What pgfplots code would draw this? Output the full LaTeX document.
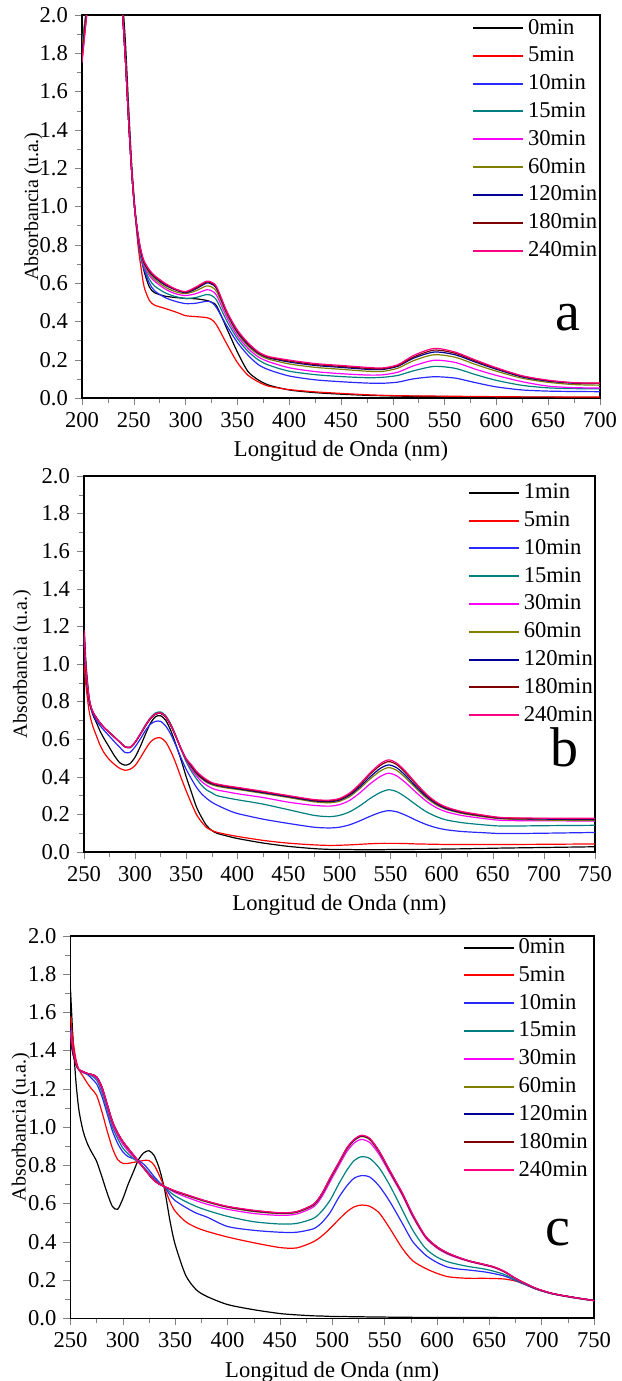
\documentclass[border=0pt]{standalone}
\usepackage{fontspec}
\setmainfont{Liberation Serif}
\usepackage{pgfplots}
\usepackage{pgfplotstable}
\pgfplotsset{compat=1.18}

\definecolor{c0}{RGB}{0,0,0}
\definecolor{c5}{RGB}{255,0,0}
\definecolor{c10}{RGB}{40,40,255}
\definecolor{c15}{RGB}{0,128,128}
\definecolor{c30}{RGB}{255,0,255}
\definecolor{c60}{RGB}{128,128,0}
\definecolor{c120}{RGB}{0,0,150}
\definecolor{c180}{RGB}{128,0,0}
\definecolor{c240}{RGB}{255,0,128}

% panel a
\pgfplotstableread{
x   t0    t5    t10   t15   t30   t60   t120  t180  t240
200 1.80  1.76  1.82  1.85  1.78  1.83  1.80  1.77  1.75
203 1.95  1.92  1.96  1.98  1.94  1.97  1.95  1.93  1.92
206 2.10  2.08  2.10  2.12  2.09  2.11  2.10  2.09  2.08
210 2.35  2.35  2.35  2.35  2.35  2.35  2.35  2.35  2.35
220 2.60  2.60  2.60  2.60  2.60  2.60  2.60  2.60  2.60
230 2.60  2.60  2.60  2.60  2.60  2.60  2.60  2.60  2.60
236 2.40  2.35  2.35  2.35  2.35  2.35  2.35  2.35  2.35
239 2.10  2.03  2.03  2.03  2.03  2.03  2.03  2.03  2.03
242 1.85  1.76  1.76  1.76  1.76  1.76  1.76  1.76  1.76
245 1.52  1.45  1.45  1.45  1.45  1.45  1.45  1.45  1.45
248 1.22  1.18  1.18  1.18  1.18  1.18  1.18  1.18  1.18
251 1.00  0.98  0.98  0.98  0.98  0.98  0.98  0.98  0.98
254 0.85  0.80  0.83  0.84  0.845 0.85  0.85  0.855 0.86
257 0.74  0.68  0.73  0.74  0.75  0.755 0.76  0.765 0.77
260 0.66  0.58  0.67  0.68  0.69  0.70  0.705 0.71  0.715
265 0.58  0.51  0.60  0.62  0.64  0.65  0.66  0.665 0.67
270 0.55  0.485 0.56  0.585 0.61  0.62  0.63  0.635 0.64
280 0.532 0.468 0.525 0.55  0.57  0.58  0.59  0.595 0.60
290 0.525 0.45  0.505 0.53  0.545 0.555 0.565 0.568 0.57
300 0.52  0.43  0.493 0.52  0.535 0.545 0.55  0.553 0.556
310 0.518 0.425 0.495 0.525 0.545 0.56  0.57  0.575 0.58
320 0.51  0.42  0.505 0.54  0.565 0.585 0.60  0.605 0.61
325 0.50  0.41  0.50  0.535 0.56  0.58  0.595 0.60  0.605
330 0.48  0.38  0.47  0.51  0.535 0.555 0.57  0.575 0.58
340 0.36  0.28  0.375 0.40  0.42  0.435 0.443 0.447 0.45
350 0.24  0.185 0.29  0.31  0.325 0.338 0.345 0.35  0.355
360 0.14  0.12  0.225 0.245 0.26  0.272 0.28  0.285 0.29
370 0.095 0.085 0.175 0.20  0.215 0.228 0.235 0.238 0.242
380 0.068 0.062 0.148 0.172 0.19  0.203 0.21  0.213 0.217
400 0.042 0.044 0.115 0.14  0.158 0.178 0.188 0.193 0.198
425 0.028 0.032 0.095 0.122 0.138 0.160 0.170 0.175 0.180
450 0.020 0.024 0.085 0.112 0.127 0.150 0.160 0.165 0.170
475 0.014 0.017 0.078 0.106 0.120 0.140 0.150 0.155 0.160
490 0.012 0.014 0.077 0.108 0.121 0.139 0.149 0.153 0.157
505 0.010 0.012 0.083 0.118 0.135 0.156 0.166 0.170 0.174
520 0.009 0.011 0.100 0.142 0.168 0.195 0.208 0.214 0.222
540 0.008 0.010 0.111 0.165 0.197 0.226 0.240 0.250 0.259
560 0.007 0.009 0.104 0.155 0.186 0.213 0.226 0.234 0.240
580 0.006 0.008 0.080 0.122 0.150 0.175 0.187 0.193 0.198
600 0.005 0.007 0.058 0.092 0.118 0.140 0.150 0.155 0.158
625 0.004 0.006 0.042 0.066 0.085 0.103 0.110 0.114 0.116
650 0.004 0.006 0.036 0.053 0.062 0.082 0.088 0.091 0.093
675 0.003 0.005 0.034 0.049 0.054 0.070 0.077 0.079 0.080
700 0.003 0.005 0.033 0.048 0.052 0.067 0.075 0.077 0.078
}\tabA

% panel b
\pgfplotstableread{
x   t0    t5    t10   t15   t30   t60   t120  t180  t240
250 1.22  1.00  1.10  1.15  1.15  1.16  1.16  1.17  1.18
252 1.00  0.88  0.94  0.95  0.95  0.96  0.96  0.96  0.97
255 0.82  0.75  0.80  0.81  0.81  0.81  0.81  0.815 0.82
258 0.74  0.68  0.745 0.75  0.75  0.75  0.75  0.755 0.755
262 0.69  0.62  0.70  0.715 0.715 0.715 0.715 0.715 0.715
266 0.64  0.565 0.67  0.68  0.685 0.685 0.685 0.685 0.685
270 0.60  0.525 0.645 0.66  0.66  0.66  0.66  0.66  0.66
275 0.555 0.49  0.615 0.635 0.635 0.635 0.635 0.635 0.635
280 0.51  0.465 0.585 0.61  0.61  0.61  0.61  0.61  0.61
285 0.475 0.445 0.557 0.585 0.585 0.585 0.585 0.585 0.585
290 0.462 0.435 0.53  0.56  0.56  0.56  0.56  0.56  0.56
295 0.47  0.44  0.53  0.556 0.556 0.556 0.556 0.556 0.558
300 0.505 0.46  0.56  0.585 0.583 0.583 0.583 0.583 0.585
305 0.56  0.50  0.60  0.628 0.625 0.625 0.625 0.625 0.627
310 0.625 0.545 0.645 0.675 0.67  0.67  0.67  0.67  0.672
315 0.685 0.585 0.68  0.715 0.71  0.71  0.71  0.71  0.712
320 0.72  0.605 0.695 0.74  0.733 0.733 0.733 0.734 0.735
325 0.725 0.607 0.695 0.745 0.738 0.738 0.738 0.739 0.74
330 0.70  0.585 0.67  0.725 0.718 0.718 0.718 0.719 0.72
335 0.645 0.535 0.625 0.68  0.673 0.673 0.673 0.674 0.675
340 0.57  0.47  0.565 0.618 0.613 0.613 0.613 0.614 0.615
345 0.49  0.395 0.50  0.545 0.548 0.548 0.549 0.55  0.55
350 0.40  0.325 0.44  0.48  0.49  0.493 0.494 0.495 0.496
355 0.32  0.26  0.39  0.43  0.44  0.45  0.455 0.46  0.465
360 0.24  0.20  0.345 0.39  0.405 0.415 0.42  0.425 0.43
365 0.185 0.16  0.31  0.355 0.375 0.39  0.395 0.40  0.405
370 0.14  0.13  0.285 0.33  0.355 0.37  0.375 0.38  0.385
375 0.115 0.115 0.265 0.315 0.34  0.358 0.363 0.367 0.37
380 0.10  0.105 0.25  0.30  0.33  0.35  0.355 0.358 0.362
390 0.085 0.093 0.225 0.288 0.32  0.34  0.345 0.349 0.352
400 0.072 0.083 0.205 0.278 0.31  0.333 0.337 0.341 0.344
425 0.048 0.062 0.175 0.255 0.29  0.312 0.316 0.32  0.323
450 0.030 0.047 0.152 0.225 0.265 0.29  0.294 0.298 0.30
475 0.018 0.038 0.132 0.195 0.248 0.267 0.272 0.276 0.279
490 0.014 0.035 0.128 0.188 0.244 0.262 0.268 0.272 0.276
500 0.013 0.036 0.132 0.195 0.252 0.270 0.276 0.281 0.285
510 0.013 0.038 0.145 0.214 0.275 0.295 0.303 0.309 0.314
520 0.012 0.041 0.166 0.246 0.315 0.338 0.347 0.357 0.363
530 0.012 0.044 0.190 0.285 0.363 0.389 0.400 0.414 0.421
540 0.012 0.046 0.211 0.317 0.402 0.431 0.445 0.461 0.470
548 0.013 0.046 0.220 0.331 0.419 0.449 0.463 0.481 0.490
556 0.013 0.046 0.214 0.321 0.405 0.434 0.448 0.465 0.473
565 0.013 0.045 0.195 0.291 0.367 0.393 0.405 0.419 0.427
575 0.014 0.043 0.169 0.251 0.317 0.338 0.347 0.359 0.365
585 0.014 0.042 0.146 0.214 0.270 0.287 0.295 0.303 0.308
595 0.015 0.041 0.129 0.188 0.235 0.250 0.256 0.261 0.265
605 0.016 0.040 0.118 0.170 0.213 0.226 0.230 0.235 0.238
620 0.017 0.040 0.109 0.156 0.194 0.205 0.209 0.212 0.215
640 0.019 0.040 0.103 0.145 0.179 0.188 0.192 0.194 0.197
660 0.021 0.040 0.098 0.138 0.168 0.176 0.179 0.181 0.183
700 0.024 0.041 0.100 0.140 0.166 0.170 0.175 0.178 0.180
750 0.028 0.043 0.104 0.142 0.165 0.167 0.172 0.176 0.180
}\tabB

% panel c
\pgfplotstableread{
x   t0    t5    t10   t15   t30   t60   t120  t180  t240
250 1.72  1.58  1.52  1.50  1.48  1.47  1.46  1.47  1.50
252 1.50  1.47  1.42  1.41  1.40  1.39  1.39  1.40  1.42
255 1.25  1.36  1.34  1.33  1.33  1.33  1.33  1.33  1.34
258 1.09  1.30  1.30  1.30  1.30  1.30  1.30  1.30  1.30
262 0.98  1.265 1.285 1.285 1.285 1.29  1.29  1.29  1.29
266 0.915 1.23  1.275 1.278 1.28  1.28  1.28  1.28  1.28
270 0.87  1.20  1.255 1.268 1.272 1.275 1.275 1.275 1.275
275 0.82  1.165 1.225 1.245 1.255 1.262 1.262 1.262 1.262
280 0.74  1.08  1.16  1.18  1.195 1.205 1.21  1.21  1.21
285 0.655 0.98  1.07  1.09  1.105 1.115 1.12  1.12  1.12
290 0.585 0.89  0.98  1.00  1.015 1.025 1.03  1.03  1.03
295 0.57  0.83  0.915 0.94  0.955 0.965 0.97  0.97  0.97
300 0.625 0.81  0.87  0.89  0.91  0.92  0.925 0.925 0.925
305 0.70  0.81  0.845 0.86  0.875 0.885 0.888 0.89  0.89
310 0.765 0.815 0.835 0.835 0.845 0.852 0.855 0.855 0.855
315 0.83  0.82  0.825 0.815 0.815 0.818 0.82  0.82  0.82
320 0.865 0.825 0.805 0.79  0.785 0.785 0.785 0.785 0.785
325 0.876 0.825 0.775 0.76  0.755 0.752 0.75  0.75  0.75
330 0.85  0.80  0.74  0.73  0.725 0.722 0.72  0.72  0.72
335 0.78  0.745 0.71  0.705 0.703 0.702 0.70  0.70  0.70
340 0.67  0.68  0.685 0.687 0.688 0.688 0.688 0.688 0.688
345 0.51  0.61  0.645 0.66  0.672 0.675 0.676 0.676 0.677
350 0.385 0.56  0.615 0.64  0.657 0.662 0.664 0.665 0.666
360 0.225 0.505 0.58  0.61  0.635 0.643 0.646 0.647 0.648
370 0.15  0.475 0.55  0.585 0.615 0.625 0.628 0.629 0.63
380 0.115 0.455 0.53  0.565 0.597 0.608 0.611 0.612 0.613
400 0.072 0.425 0.48  0.533 0.57  0.58  0.583 0.584 0.585
425 0.045 0.395 0.46  0.505 0.548 0.558 0.561 0.563 0.565
450 0.025 0.37  0.45  0.493 0.538 0.547 0.55  0.551 0.552
466 0.018 0.368 0.45  0.496 0.545 0.553 0.556 0.557 0.558
482 0.013 0.40  0.468 0.522 0.582 0.59  0.593 0.595 0.596
490 0.012 0.43  0.50  0.56  0.635 0.645 0.648 0.65  0.652
498 0.010 0.47  0.553 0.618 0.715 0.727 0.731 0.733 0.735
506 0.009 0.515 0.63  0.70  0.795 0.806 0.809 0.811 0.813
514 0.009 0.557 0.693 0.775 0.872 0.884 0.888 0.89  0.892
521 0.008 0.583 0.733 0.825 0.917 0.929 0.932 0.934 0.936
528 0.008 0.592 0.746 0.845 0.935 0.950 0.953 0.955 0.957
536 0.007 0.585 0.738 0.835 0.918 0.933 0.936 0.938 0.940
545 0.007 0.55  0.69  0.785 0.855 0.866 0.869 0.871 0.873
555 0.006 0.47  0.61  0.695 0.758 0.766 0.769 0.771 0.773
567 0.006 0.365 0.496 0.566 0.642 0.648 0.651 0.653 0.655
577 0.005 0.30  0.40  0.46  0.53  0.535 0.538 0.54  0.542
589 0.005 0.261 0.331 0.366 0.422 0.426 0.428 0.429 0.43
600 0.005 0.235 0.292 0.32  0.367 0.371 0.373 0.374 0.375
610 0.004 0.218 0.268 0.296 0.336 0.339 0.341 0.342 0.343
620 0.004 0.212 0.258 0.282 0.315 0.318 0.319 0.32  0.32
631 0.004 0.209 0.252 0.27  0.297 0.298 0.299 0.30  0.30
645 0.004 0.209 0.243 0.258 0.278 0.28  0.281 0.282 0.282
655 0.004 0.208 0.233 0.245 0.264 0.266 0.267 0.267 0.268
665 0.003 0.205 0.22  0.228 0.24  0.242 0.243 0.243 0.244
675 0.003 0.195 0.198 0.20  0.207 0.208 0.208 0.209 0.209
685 0.003 0.175 0.175 0.177 0.18  0.18  0.18  0.181 0.181
695 0.003 0.152 0.152 0.153 0.155 0.155 0.155 0.156 0.156
710 0.003 0.128 0.128 0.129 0.13  0.13  0.13  0.13  0.13
730 0.003 0.108 0.108 0.109 0.11  0.11  0.11  0.11  0.11
750 0.003 0.092 0.092 0.092 0.093 0.093 0.093 0.093 0.093
}\tabC

\pgfplotsset{
  panel/.style={
    scale only axis,
    ymin=0, ymax=2,
    ytick={0,0.2,0.4,0.6,0.8,1.0,1.2,1.4,1.6,1.8,2.0},
    minor x tick num=1, minor y tick num=1,
    xtick pos=left, ytick pos=left,
    tick align=outside,
    major tick length=3.5pt, minor tick length=2.5pt,
    /pgf/number format/assume math mode=true,
    yticklabel style={/pgf/number format/.cd, fixed, fixed zerofill, precision=1},
    tick label style={font=\fontsize{11.3}{13}\selectfont},
    label style={font=\fontsize{11.3}{13}\selectfont},
    xlabel={Longitud de Onda (nm)},
    ylabel={Absorbancia (u.a.)},
    every axis y label/.style={rotate=90, anchor=center},
    axis line style={line width=0.8pt},
    legend cell align=left,
    legend style={draw=none, fill=none, anchor=north west,
      inner sep=0pt, outer sep=0pt, row sep=0.9pt,
      font=\fontsize{11.3}{13}\selectfont},
    legend image code/.code={\draw[#1, line width=1pt] (0pt,0pt) -- (25pt,0pt);},
    every axis plot/.append style={line width=0.6pt, smooth, tension=0.45, mark=none},
  }
}

\begin{document}
\begin{tikzpicture}
\useasboundingbox (0,0) rectangle (310.5pt,-690.5pt);

\begin{axis}[panel, at={(41pt,-199pt)}, anchor=south west,
  width=259pt, height=191.5pt,
  xmin=200, xmax=700, xtick={200,250,...,700},
  ylabel style={at={(rel axis cs:-0.094,0.5)}},
  legend style={at={(0.753,1.0)}}]
\addplot[draw=c0]   table[x=x,y=t0]{\tabA};   \addlegendentry{0min}
\addplot[draw=c5]   table[x=x,y=t5]{\tabA};   \addlegendentry{5min}
\addplot[draw=c10]  table[x=x,y=t10]{\tabA};  \addlegendentry{10min}
\addplot[draw=c15]  table[x=x,y=t15]{\tabA};  \addlegendentry{15min}
\addplot[draw=c30]  table[x=x,y=t30]{\tabA};  \addlegendentry{30min}
\addplot[draw=c60]  table[x=x,y=t60]{\tabA};  \addlegendentry{60min}
\addplot[draw=c120] table[x=x,y=t120]{\tabA}; \addlegendentry{120min}
\addplot[draw=c180] table[x=x,y=t180]{\tabA}; \addlegendentry{180min}
\addplot[draw=c240] table[x=x,y=t240]{\tabA}; \addlegendentry{240min}
\node[font=\fontsize{28}{28}\selectfont] at (rel axis cs:0.938,0.209) {a};
\end{axis}

\begin{axis}[panel, at={(42pt,-426pt)}, anchor=south west,
  width=255.5pt, height=188pt,
  xmin=250, xmax=750, xtick={250,300,...,750},
  ylabel style={at={(rel axis cs:-0.121,0.5)}},
  legend style={at={(0.751,0.99)}}]
\addplot[draw=c0]   table[x=x,y=t0]{\tabB};   \addlegendentry{1min}
\addplot[draw=c5]   table[x=x,y=t5]{\tabB};   \addlegendentry{5min}
\addplot[draw=c10]  table[x=x,y=t10]{\tabB};  \addlegendentry{10min}
\addplot[draw=c15]  table[x=x,y=t15]{\tabB};  \addlegendentry{15min}
\addplot[draw=c30]  table[x=x,y=t30]{\tabB};  \addlegendentry{30min}
\addplot[draw=c60]  table[x=x,y=t60]{\tabB};  \addlegendentry{60min}
\addplot[draw=c120] table[x=x,y=t120]{\tabB}; \addlegendentry{120min}
\addplot[draw=c180] table[x=x,y=t180]{\tabB}; \addlegendentry{180min}
\addplot[draw=c240] table[x=x,y=t240]{\tabB}; \addlegendentry{240min}
\node[font=\fontsize{28}{28}\selectfont] at (rel axis cs:0.941,0.279) {b};
\end{axis}

\begin{axis}[panel, at={(35.25pt,-659.15pt)}, anchor=south west,
  width=261.75pt, height=191.3pt,
  xmin=250, xmax=750, xtick={250,300,...,750},
  ylabel style={at={(rel axis cs:-0.095,0.5)}},
  legend style={at={(0.749,1.003)}}]
\addplot[draw=c0]   table[x=x,y=t0]{\tabC};   \addlegendentry{0min}
\addplot[draw=c5]   table[x=x,y=t5]{\tabC};   \addlegendentry{5min}
\addplot[draw=c10]  table[x=x,y=t10]{\tabC};  \addlegendentry{10min}
\addplot[draw=c15]  table[x=x,y=t15]{\tabC};  \addlegendentry{15min}
\addplot[draw=c30]  table[x=x,y=t30]{\tabC};  \addlegendentry{30min}
\addplot[draw=c60]  table[x=x,y=t60]{\tabC};  \addlegendentry{60min}
\addplot[draw=c120] table[x=x,y=t120]{\tabC}; \addlegendentry{120min}
\addplot[draw=c180] table[x=x,y=t180]{\tabC}; \addlegendentry{180min}
\addplot[draw=c240] table[x=x,y=t240]{\tabC}; \addlegendentry{240min}
\node[font=\fontsize{28}{28}\selectfont] at (rel axis cs:0.931,0.223) {c};
\end{axis}
\end{tikzpicture}
\end{document}
